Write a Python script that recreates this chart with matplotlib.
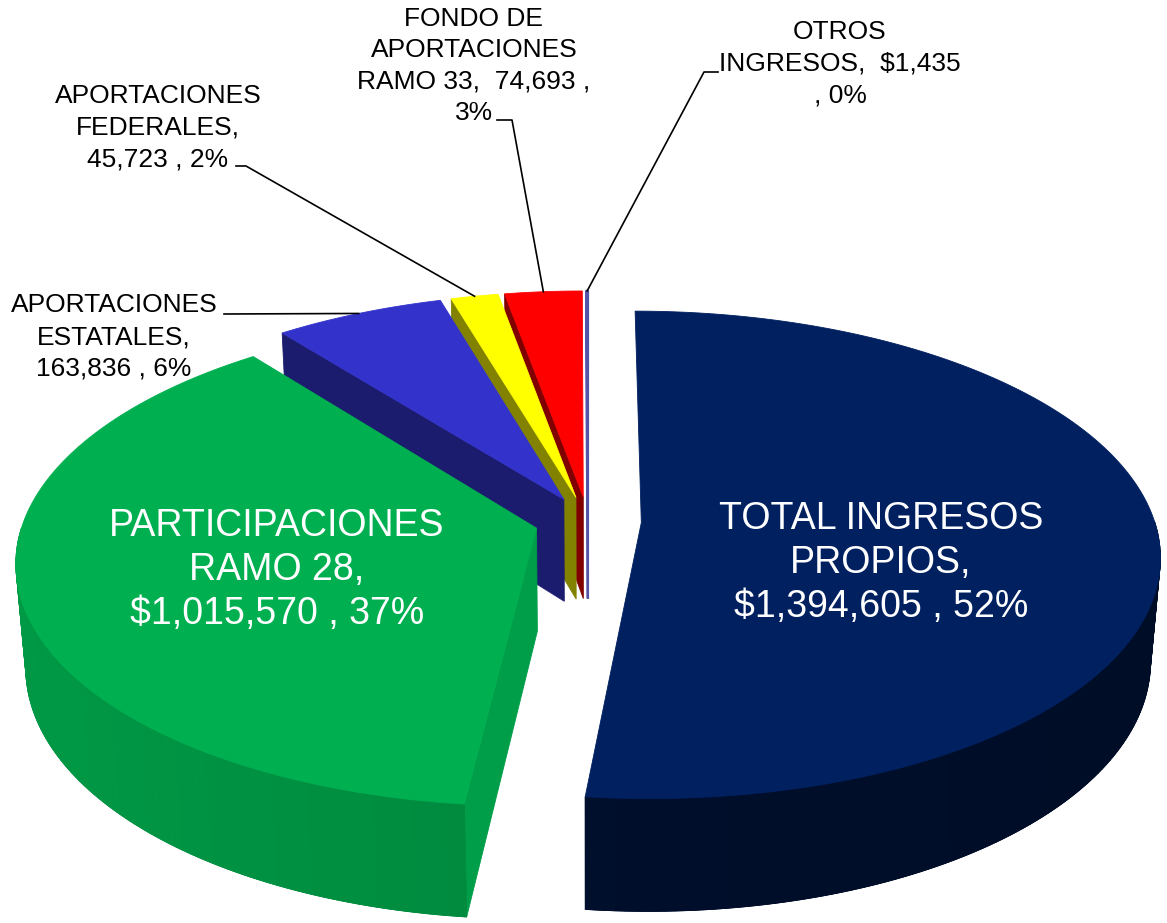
import numpy as np
import matplotlib.pyplot as plt
from matplotlib.patches import Polygon
from matplotlib.colors import to_rgb

plt.rcParams['font.family'] = ['Liberation Sans', 'DejaVu Sans']

# data (clockwise from 12 o'clock, as in the original chart)
labels = ['TOTAL INGRESOS\nPROPIOS,\n$1,394,605 , 52%',
          'PARTICIPACIONES\nRAMO 28,\n$1,015,570 , 37%',
          'APORTACIONES\nESTATALES,\n163,836 , 6%',
          'APORTACIONES\nFEDERALES,\n45,723 , 2%',
          'FONDO DE\nAPORTACIONES\nRAMO 33,  74,693 ,\n3%',
          'OTROS\nINGRESOS,  $1,435\n, 0%']
values = [1394605, 1015570, 163836, 45723, 74693, 1435]
colors = ['#002060', '#00B050', '#3333CC', '#FFFF00', '#FF0000', '#5555A8']
wall_dark = [0.45, 0.78, 0.55, 0.5, 0.5, 0.6]

# label layout (pixel coords, y down)
label_pos = [(881, 563), (277, 570), (114, 337), (158, 128), (474, 66), (840, 64)]
label_color = ['white', 'white', 'black', 'black', 'black', 'black']
label_size = [27, 27, 19, 19, 19, 19]
label_spacing = [1.28, 1.28, 1.4, 1.4, 1.4, 1.4]
leader_start = [None, None,
                [(224, 314)],
                [(236, 166), (246, 166)],
                [(497, 120), (512, 120)],
                [(718, 72), (704, 72)]]

# 3d view settings
W, H = 1167, 923
ELEV = np.radians(29.5)
DIST = 6.7
FOCAL = 3380
CX, CY = 588, 624
EXPLODE = 0.104
THICK = 0.23

view = np.array([0.0, -np.cos(ELEV), np.sin(ELEV)])


def project(p):
    x, y, z = p
    d = DIST + y * np.cos(ELEV) - z * np.sin(ELEV)
    sx = CX + FOCAL * x / d
    sy = CY - FOCAL * (y * np.sin(ELEV) + z * np.cos(ELEV)) / d
    return sx, sy


def shade(color, f):
    return tuple(np.clip(np.array(to_rgb(color)) * f, 0, 1))


def direction(a):
    return np.array([np.sin(np.radians(a)), np.cos(np.radians(a)), 0.0])


fig = plt.figure(figsize=(W / 100, H / 100), dpi=100)
ax = fig.add_axes([0, 0, 1, 1])
ax.set_xlim(0, W)
ax.set_ylim(H, 0)
ax.axis('off')

total = sum(values)
angles = np.concatenate([[0], np.cumsum(values) / total * 360])
up = np.array([0, 0, THICK])

slices = []
for i in range(len(values)):
    a0, a1 = angles[i], angles[i + 1]
    mid = (a0 + a1) / 2
    off = EXPLODE * direction(mid)
    centroid = off + 0.5 * direction(mid)
    slices.append((centroid[1], i, a0, a1, off))

# far slices first
slices.sort(key=lambda s: -s[0])
arc_mid = {}

for depth, i, a0, a1, off in slices:
    col = colors[i]
    n = max(2, int(a1 - a0) + 2)
    th = np.linspace(a0, a1, n)
    rim = [off + direction(t) for t in th]
    tiny = (a1 - a0) < 1
    lw = 1.6 if tiny else 0.6

    # radial side faces
    r0, r1 = np.radians(a0), np.radians(a1)
    for a, nrm in [(a0, np.array([-np.cos(r0), np.sin(r0), 0])),
                   (a1, np.array([np.cos(r1), -np.sin(r1), 0]))]:
        o = off + direction(a)
        pts = [off + up, o + up, o, off]
        if np.dot(view, nrm) > 1e-6 or tiny:
            c = col if tiny else shade(col, 0.7 + 0.2 * nrm[0])
            ax.add_patch(Polygon([project(p) for p in pts], closed=True,
                                 facecolor=c, edgecolor=c, lw=lw))

    # outer wall: base strip, then shaded pieces on top of it
    vis = [k for k in range(n - 1)
           if np.dot(view, direction((th[k] + th[k + 1]) / 2)) > 0]
    if vis:
        ks = list(range(vis[0], vis[-1] + 2))
        strip = [project(rim[k] + up) for k in ks] + [project(rim[k]) for k in ks[::-1]]
        c = shade(col, wall_dark[i])
        ax.add_patch(Polygon(strip, closed=True, facecolor=c, edgecolor=c, lw=0.6))
        for k in vis:
            nrm = direction((th[k] + th[k + 1]) / 2)
            c = shade(col, wall_dark[i] * (1.0 - 0.12 * nrm[0]))
            pts = [rim[k] + up, rim[k + 1] + up, rim[k + 1], rim[k]]
            ax.add_patch(Polygon([project(p) for p in pts], closed=True,
                                 facecolor=c, edgecolor=c, lw=0.5))

    # top face
    top = [off + up] + [p + up for p in rim]
    ax.add_patch(Polygon([project(p) for p in top], closed=True,
                         facecolor=col, edgecolor=col, lw=lw))
    arc_mid[i] = project(off + direction((a0 + a1) / 2) + up)

# labels
for i, txt in enumerate(labels):
    x, y = label_pos[i]
    ax.text(x, y, txt, ha='center', va='center', multialignment='center',
            color=label_color[i], fontsize=label_size[i],
            linespacing=label_spacing[i])
    if leader_start[i] is not None:
        pts = leader_start[i] + [arc_mid[i]]
        ax.plot([p[0] for p in pts], [p[1] for p in pts], color='black', lw=1.2)

fig.savefig('out.png', dpi=100)
